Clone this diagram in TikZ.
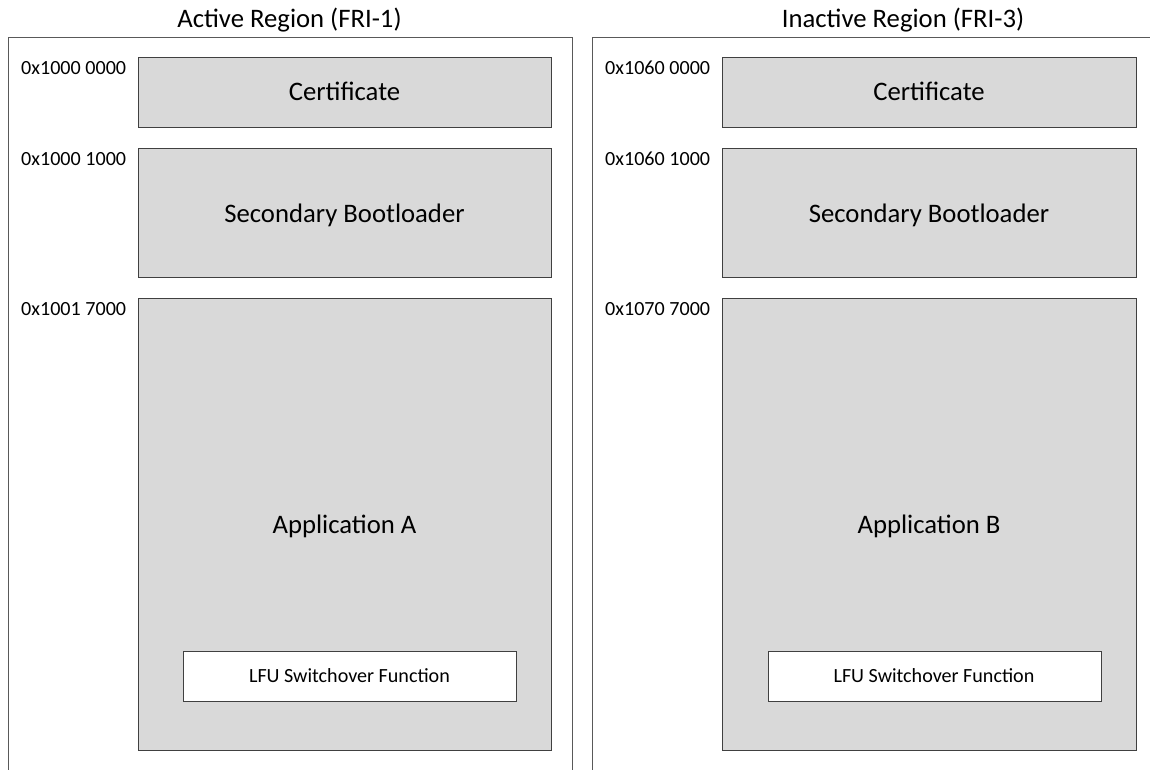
\documentclass[tikz,border=0pt]{standalone}
\usepackage{fontspec}
\setmainfont{Carlito}
\definecolor{boxfill}{HTML}{D9D9D9}
\definecolor{boxline}{HTML}{404040}
\definecolor{panelline}{HTML}{595959}
\begin{document}
\begin{tikzpicture}[x=1pt,y=-1pt,
  membox/.style={draw=boxline, fill=boxfill, line width=0.9pt, anchor=north west, inner sep=0pt},
  lfubox/.style={draw=boxline, fill=white, line width=0.9pt, anchor=north west, inner sep=0pt, minimum width=333pt, minimum height=50pt},
  bigtext/.style={anchor=base, inner sep=0pt, font=\fontsize{26.7}{30}\selectfont},
  smalltext/.style={anchor=base, inner sep=0pt, font=\fontsize{20.1}{23}\selectfont},
  addr/.style={anchor=base west, inner sep=0pt, font=\fontsize{20.1}{23}\selectfont},
  panel/.style={draw=panelline, line width=0.9pt}]
\useasboundingbox (0,0) rectangle (1150,770);
% panels
\draw[panel] (8,770) -- (8,37) -- (572,37) -- (572,770);
\draw[panel] (592,770) -- (592,37) -- (1150,37);
\node[bigtext] (tA) at (289.5,28) {Active Region (FRI-1)};
\node[bigtext] (tB) at (903,28) {Inactive Region (FRI-3)};
% left column
\node[membox, minimum width=413pt, minimum height=70pt] (certA) at (138,57) {};
\node[membox, minimum width=413pt, minimum height=129pt] (sblA) at (138,148) {};
\node[membox, minimum width=413pt, minimum height=452pt] (appA) at (138,298) {};
\node[bigtext] (certAt) at (344.5,101) {Certificate};
\node[bigtext] (sblAt) at (344.5,222) {Secondary Bootloader};
\node[bigtext] (appAt) at (344.5,533) {Application A};
\node[lfubox] (lfuA) at (183,651) {};
\node[smalltext] (lfuAt) at (349.5,682) {LFU Switchover Function};
\node[addr] (a1) at (21,75) {0x1000 0000};
\node[addr] (a2) at (21,166) {0x1000 1000};
\node[addr] (a3) at (21,315) {0x1001 7000};
% right column
\node[membox, minimum width=414pt, minimum height=70pt] (certB) at (722,57) {};
\node[membox, minimum width=414pt, minimum height=129pt] (sblB) at (722,148) {};
\node[membox, minimum width=414pt, minimum height=452pt] (appB) at (722,298) {};
\node[bigtext] (certBt) at (929,101) {Certificate};
\node[bigtext] (sblBt) at (929,222) {Secondary Bootloader};
\node[bigtext] (appBt) at (929,533) {Application B};
\node[lfubox] (lfuB) at (768,651) {};
\node[smalltext] (lfuBt) at (934,682) {LFU Switchover Function};
\node[addr] (b1) at (605,75) {0x1060 0000};
\node[addr] (b2) at (605,166) {0x1060 1000};
\node[addr] (b3) at (605,315) {0x1070 7000};
\end{tikzpicture}
\end{document}
